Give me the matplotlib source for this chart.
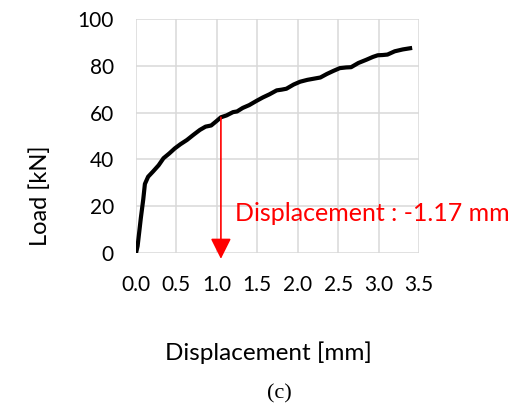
import matplotlib
matplotlib.use("Agg")
import matplotlib.pyplot as plt

disp = [0, 0.02, 0.04, 0.06, 0.09, 0.11, 0.15, 0.21, 0.28, 0.34, 0.41, 0.48, 0.55, 0.63, 0.71, 0.79,
        0.86, 0.93, 1.0, 1.05, 1.12, 1.2, 1.25, 1.32, 1.4, 1.49, 1.57, 1.65, 1.74, 1.8, 1.86, 1.95,
        2.03, 2.12, 2.2, 2.28, 2.36, 2.44, 2.52, 2.6, 2.66, 2.75, 2.85, 2.93, 2.99, 3.05, 3.11,
        3.2, 3.3, 3.39]
load = [0, 3, 9, 15, 23, 29.5, 32.6, 34.8, 37.5, 40.5, 42.5, 44.7, 46.5, 48.3, 50.5, 52.6,
        54, 54.5, 56.5, 58, 58.8, 60.2, 60.5, 62, 63.2, 65, 66.5, 67.8, 69.5, 69.8, 70.2, 72,
        73.2, 74, 74.5, 75, 76.5, 77.8, 79, 79.3, 79.4, 81.2, 82.6, 83.8, 84.5, 84.6, 84.8,
        86.2, 87, 87.5]

marker_x = 1.05
marker_top = 58
marker_bottom = -2.5
note = "Displacement : -1.17 mm"

xticks = [0.0, 0.5, 1.0, 1.5, 2.0, 2.5, 3.0, 3.5]
yticks = [0, 20, 40, 60, 80, 100]

font = ["Lato", "DejaVu Sans"]
plt.rcParams["font.family"] = font

fig = plt.figure(figsize=(5.16, 4.05), dpi=100)
ax = fig.add_axes([136/516, 1-253/405, 283/516, 234/405])
ax.set_xlim(0, 3.5)
ax.set_ylim(0, 100)
ax.set_xticks(xticks)
ax.set_yticks(yticks)
ax.set_xticklabels([f"{v:.1f}" for v in xticks], fontsize=15)
ax.set_yticklabels([str(v) for v in yticks], fontsize=15)
ax.tick_params(length=0)
ax.tick_params(axis="y", pad=16)
ax.tick_params(axis="x", pad=16)
ax.grid(True, color="#d9d9d9", lw=1.1)
for s in ax.spines.values():
    s.set_visible(False)
ax.set_axisbelow(True)

ax.plot(disp, load, color="black", lw=3, solid_joinstyle="round", zorder=3)

ax.annotate("", xy=(marker_x, marker_bottom), xytext=(marker_x, marker_top),
            arrowprops=dict(arrowstyle="-|>,head_length=0.9,head_width=0.45", color="red",
                            lw=1.2, shrinkA=0, shrinkB=0, mutation_scale=14),
            annotation_clip=False, zorder=4)
ax.text(1.225, 16.7, note, color="red", fontsize=18, va="center", ha="left",
        clip_on=False, zorder=5)

fig.text(40/516, 1-196/405, "Load [kN]", rotation=90, fontsize=17, ha="center", va="center")
fig.text(268/516, 1-353/405, "Displacement [mm]", fontsize=17.5, ha="center", va="center")
fig.text(279/516, 2/405, "(c)", fontsize=16, ha="center", va="bottom",
         family=["Liberation Serif", "DejaVu Serif"])

fig.savefig("out.png", dpi=100)
